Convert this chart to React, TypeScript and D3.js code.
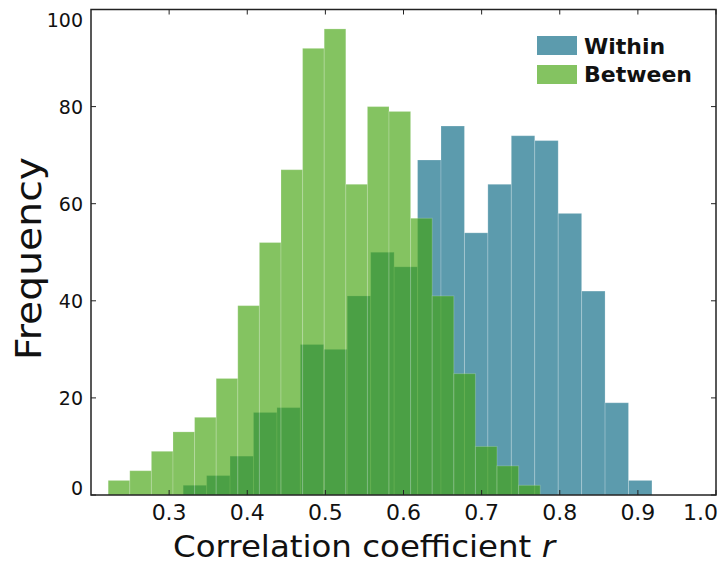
import * as d3 from "d3";

// histogram counts (20 bins per group)
const withinCounts = [2, 4, 8, 17, 18, 31, 30, 41, 50, 47, 69, 76, 54, 64, 74, 73, 58, 42, 19, 3];
const betweenCounts = [3, 5, 9, 13, 16, 24, 39, 52, 67, 92, 96, 64, 80, 79, 57, 41, 25, 10, 6, 2];
// r range covered by the bins of each group
const withinRange = [0.318, 0.918];
const betweenRange = [0.222, 0.775];

const xTicks = [0.3, 0.4, 0.5, 0.6, 0.7, 0.8, 0.9, 1.0];
const yTicks = [0, 20, 40, 60, 80, 100];
const legendNames = ["Within", "Between"];

const W = 722, H = 566;
const margin = { top: 9.5, right: 6, bottom: 71, left: 91 };

const blue = "rgb(92,155,173)";
const green = "rgb(67,163,14)";
const greenAlpha = 0.655;

function bins(counts: number[], range: number[]) {
    const n = counts.length;
    const step = (range[1] - range[0]) / n;
    return counts.map((c, i) => ({ x0: range[0] + i * step, x1: range[0] + (i + 1) * step, count: c }));
}

export default function App() {
    const x = d3.scaleLinear().domain([0.2, 1.0]).range([margin.left, W - margin.right]);
    const y = d3.scaleLinear().domain([0, 100]).range([H - margin.bottom, margin.top]);
    const [left, right] = x.range();
    const [bottom, top] = y.range();

    const within = bins(withinCounts, withinRange);
    const between = bins(betweenCounts, betweenRange);
    const font = "'DejaVu Sans', sans-serif";
    const axisColor = "#222";

    return (
        <svg width={W} height={H} style={{ position: "absolute", left: 0, top: 0 }} fontFamily={font}>
            <rect width={W} height={H} fill="white" />

            {within.map((b, i) => (
                <rect key={"w" + i} x={x(b.x0)} y={y(b.count)} width={x(b.x1) - x(b.x0)} height={bottom - y(b.count)}
                    fill={blue} stroke="white" strokeOpacity={0.2} strokeWidth={1} />
            ))}
            {between.map((b, i) => (
                <rect key={"b" + i} x={x(b.x0)} y={y(b.count)} width={x(b.x1) - x(b.x0)} height={bottom - y(b.count)}
                    fill={green} fillOpacity={greenAlpha} stroke="white" strokeOpacity={0.2} strokeWidth={1} />
            ))}

            {/* frame */}
            <rect x={left} y={top} width={right - left} height={bottom - top} fill="none" stroke={axisColor} strokeWidth={1.5} />

            {/* x ticks */}
            {xTicks.map(t => (
                <g key={"xt" + t}>
                    <line x1={x(t)} x2={x(t)} y1={bottom} y2={bottom - 5} stroke={axisColor} strokeWidth={1} />
                    <line x1={x(t)} x2={x(t)} y1={top} y2={top + 5} stroke={axisColor} strokeWidth={1} />
                    <text x={Math.min(x(t), right - 15.5)} y={520} textAnchor="middle" fontSize={22} fill="#111">
                        {t.toFixed(1)}
                    </text>
                </g>
            ))}

            {/* y ticks */}
            {yTicks.map(t => (
                <g key={"yt" + t}>
                    <line x1={left} x2={left + 5} y1={y(t)} y2={y(t)} stroke={axisColor} strokeWidth={1} />
                    <line x1={right} x2={right - 5} y1={y(t)} y2={y(t)} stroke={axisColor} strokeWidth={1} />
                    <text x={83} y={Math.min(Math.max(y(t), top + 10), bottom - 7.5) + 7} textAnchor="end" fontSize={19} fill="#111">
                        {t}
                    </text>
                </g>
            ))}

            {/* axis labels */}
            <text x={173} y={557} fontSize={31} textLength={382} lengthAdjust="spacingAndGlyphs" fill="#111">
                Correlation coefficient <tspan fontStyle="italic">r</tspan>
            </text>
            <text transform={`translate(41,${(157 + 360) / 2}) rotate(-90)`} textAnchor="middle" fontSize={35}
                textLength={203} lengthAdjust="spacingAndGlyphs" fill="#111">
                Frequency
            </text>

            {/* legend */}
            <g>
                <rect x={537} y={36} width={40} height={19} fill={blue} />
                <text x={584} y={54} fontSize={22} fontWeight="bold" fill="#111">{legendNames[0]}</text>
                <rect x={537} y={65} width={40} height={19} fill={green} fillOpacity={greenAlpha} />
                <text x={584} y={82} fontSize={22} fontWeight="bold" fill="#111">{legendNames[1]}</text>
            </g>
        </svg>
    );
}
